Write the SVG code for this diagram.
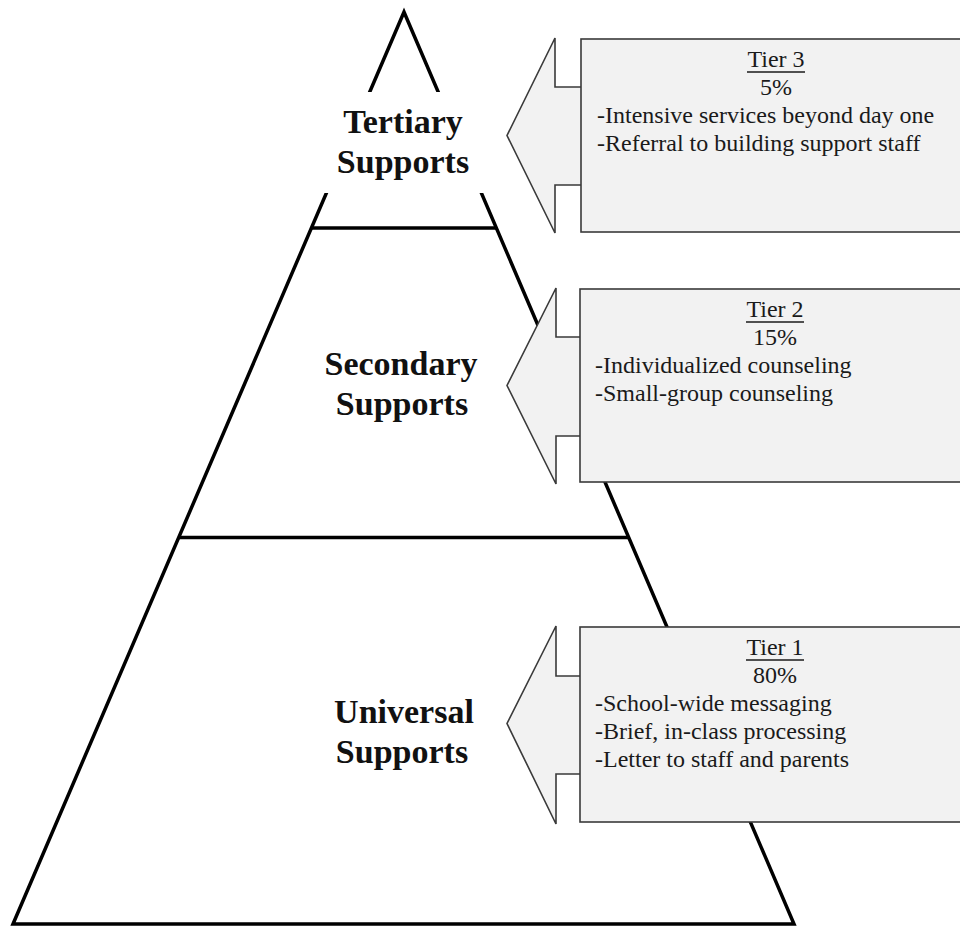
<svg xmlns="http://www.w3.org/2000/svg" width="960" height="928" viewBox="0 0 960 928">
<style>
.edge{fill:none;stroke:#000;stroke-width:3.5;stroke-linejoin:miter}
.lbl{font-family:"Liberation Serif","Times New Roman",serif;font-weight:bold;font-size:34px;fill:#111;text-anchor:middle}
.box{fill:#f2f2f2;stroke:#3a3a3a;stroke-width:1.6}
.t{font-family:"Liberation Serif","Times New Roman",serif;font-size:24px;fill:#1a1a1a}
.c{text-anchor:middle}
.ul{stroke:#1a1a1a;stroke-width:1.3}
</style>
<rect width="960" height="928" fill="#fff"/>
<g id="pyramid">
<path class="edge" d="M13,924 L404,12 L794,924 Z"/>
<line class="edge" x1="311" y1="228" x2="497" y2="228"/>
<line class="edge" x1="178" y1="537.5" x2="629" y2="537.5"/>
<rect x="318" y="92" width="172" height="101" fill="#fff"/>
</g>
<g id="tertiary">
<text class="lbl" x="403" y="133">Tertiary</text>
<text class="lbl" x="403" y="173">Supports</text>
</g>
<g id="secondary">
<text class="lbl" x="401" y="375">Secondary</text>
<text class="lbl" x="402" y="415">Supports</text>
</g>
<g id="universal">
<text class="lbl" x="404" y="723">Universal</text>
<text class="lbl" x="402" y="763">Supports</text>
</g>
<g id="tier3" transform="translate(0,39)">
<polygon class="box" points="582,48 555,48 555,-1 507,96.5 555,194 555,146 582,146"/>
<rect class="box" x="581" y="0" width="382" height="193"/>
<text class="t c" x="776" y="28">Tier 3</text>
<line class="ul" x1="747" y1="33" x2="805" y2="33"/>
<text class="t c" x="776" y="56">5%</text>
<text class="t" x="597" y="84">-Intensive services beyond day one</text>
<text class="t" x="597" y="112">-Referral to building support staff</text>
</g>
<g id="tier2" transform="translate(0,289)">
<polygon class="box" points="581,48 556,48 556,-1 507,96.5 556,195 556,147 581,147"/>
<rect class="box" x="580" y="0" width="383" height="193"/>
<text class="t c" x="775" y="28">Tier 2</text>
<line class="ul" x1="746" y1="33" x2="804" y2="33"/>
<text class="t c" x="775" y="56">15%</text>
<text class="t" x="595" y="84">-Individualized counseling</text>
<text class="t" x="595" y="112">-Small-group counseling</text>
</g>
<g id="tier1" transform="translate(0,627)">
<polygon class="box" points="581,49 556,49 556,-1 507,96.5 556,197 556,147 581,147"/>
<rect class="box" x="580" y="0" width="383" height="195"/>
<text class="t c" x="775" y="28">Tier 1</text>
<line class="ul" x1="746" y1="33" x2="804" y2="33"/>
<text class="t c" x="775" y="56">80%</text>
<text class="t" x="595" y="84">-School-wide messaging</text>
<text class="t" x="595" y="112">-Brief, in-class processing</text>
<text class="t" x="595" y="140">-Letter to staff and parents</text>
</g>
<g id="connectors"></g>
</svg>
